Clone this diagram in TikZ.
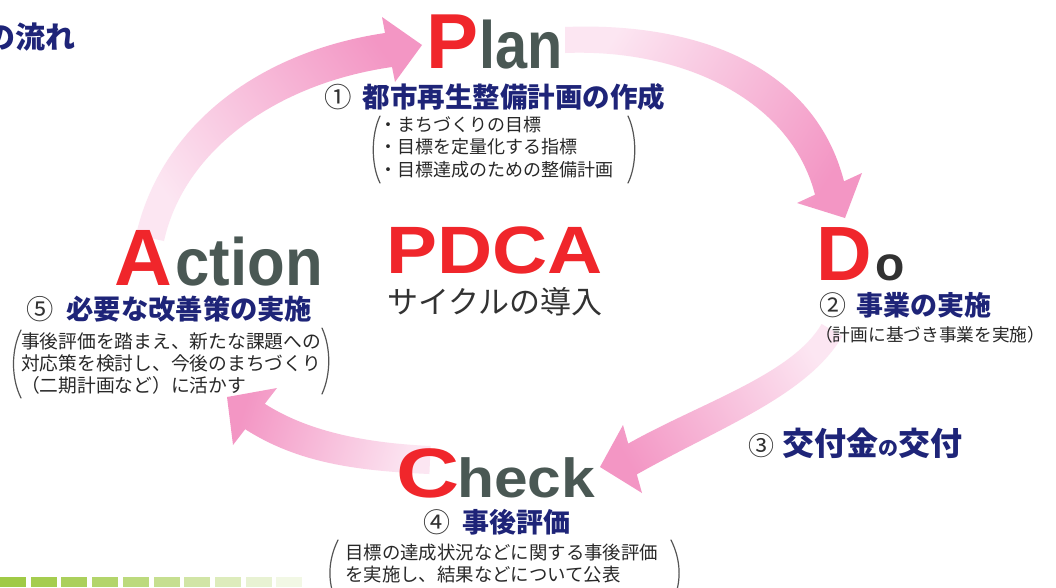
\documentclass[tikz,border=0pt]{standalone}
\usepackage{fontspec}
\setmainfont{Liberation Sans}
\newfontfamily\jp{Noto Sans CJK JP}
\newcommand{\fsz}[1]{\fontsize{#1}{#1}\selectfont}
\definecolor{redL}{RGB}{240,38,43}
\definecolor{darkL}{RGB}{74,88,84}
\definecolor{navy}{RGB}{30,36,120}
\definecolor{numc}{RGB}{50,50,50}
\definecolor{txt}{RGB}{40,40,40}
\definecolor{paren}{RGB}{85,85,85}
\definecolor{pkhead}{RGB}{243,150,196}
\definecolor{pktail}{RGB}{252,230,242}
\definecolor{barg}{RGB}{160,202,70}
\tikzset{
  capL/.style={inner sep=0, anchor=base west, text=redL, font=\bfseries},
  lowL/.style={inner sep=0, anchor=base west, text=darkL, font=\bfseries},
  head/.style={inner sep=0, anchor=west, text=navy, font=\jp\bfseries},
  body/.style={inner sep=0, anchor=west, text=txt, font=\jp},
  arrowshape/.style={top color=pktail, bottom color=pkhead},
  parenline/.style={draw=paren, line width=1.2pt, line cap=round},
}
\begin{document}
\begin{tikzpicture}[x=1pt,y=-1pt]
\useasboundingbox (0,0) rectangle (1056,587);
\fill[white] (0,0) rectangle (1056,587);

% arrows
\shade[arrowshape, shading angle=125.6]
  (136,235) .. controls (160,129.5) and (253.5,52.6) .. (385,33) -- (382,17) -- (422,45) -- (395,82) -- (392,67)
  .. controls (276.5,83.5) and (184,150) .. (164,241) -- cycle;
\shade[arrowshape, shading angle=57.6]
  (565,27) .. controls (700,21.6) and (814.8,67.9) .. (844,181.3) -- (862,173) -- (845,218) -- (797,203) -- (815,194.7)
  .. controls (790.2,98.1) and (680,48.4) .. (565,53) -- cycle;
\shade[arrowshape, shading angle=-59.4]
  (842.4,336) .. controls (807.8,395.4) and (721,426.9) .. (636.8,474.4) -- (642,493) -- (600,467) -- (623,425) -- (628.2,443.6)
  .. controls (700,403.1) and (792.2,374.6) .. (821.6,324) -- cycle;
\shade[arrowshape, shading angle=-107.2]
  (429.4,474) .. controls (359.2,470.8) and (299.2,463.8) .. (245.2,429.2) -- (233,445) -- (227,397) -- (277,388) -- (264.8,403.8)
  .. controls (310.8,433.2) and (370.8,443.2) .. (430.6,446) -- cycle;

% green bar
\foreach \i/\p in {0/100,1/95,2/88,3/80,4/70,5/60,6/48,7/36,8/24,9/14}{
  \fill[barg!\p!white] ({\i*30.7},577) rectangle ({\i*30.7+26},587);
}

% title fragment
\node[head] (title) at (-15,37) {\fsz{30}の流れ};

% Plan
\node[capL] (P) at (426,68) {\fsz{78}P};
\node[lowL, xscale=.86] (lan) at (479,68) {\fsz{67}lan};
\node[head] (h1) at (324,97) {\fsz{27.5}{\mdseries\color{numc}①}\hspace{11pt}都市再生整備計画の作成};
\node[body] (pl1) at (379,125) {\fsz{18}・まちづくりの目標};
\node[body] (pl2) at (379,147) {\fsz{18}・目標を定量化する指標};
\node[body] (pl3) at (379,170) {\fsz{18}・目標達成のための整備計画};
\draw[parenline] (380,116) .. controls (371,135) and (371,165) .. (380,183);
\draw[parenline] (628,116) .. controls (637,135) and (637,165) .. (628,183);

% Do
\node[capL] (D) at (816,280) {\fsz{77}D};
\node[lowL, text=numc] (o) at (875,280) {\fsz{48}o};
\node[head] (h2) at (819,305) {\fsz{27}{\mdseries\color{numc}②}\hspace{10pt}事業の実施};
\node[body] (do1) at (815,335) {\fsz{17.7}（計画に基づき事業を実施）};

% Grant
\node[head] (h3) at (748,443) {{\fsz{26}\mdseries\color{numc}③}\hspace{8pt}\fsz{32}交付金{\fsz{20}の}交付};

% Check
\node[capL, xscale=1.25] (C) at (396,497) {\fsz{70}C};
\node[lowL, xscale=1.1] (heck) at (457,497) {\fsz{55}heck};
\node[head] (h4) at (423,522) {\fsz{27}{\mdseries\color{numc}④}\hspace{12pt}事後評価};
\node[body] (ch1) at (345,553) {\fsz{18.4}目標の達成状況などに関する事後評価};
\node[body] (ch2) at (345,575) {\fsz{18.4}を実施し、結果などについて公表};
\draw[parenline] (338,540) .. controls (328,560) and (328,580) .. (334,596);
\draw[parenline] (671,540) .. controls (681,560) and (681,580) .. (675,596);

% Action
\node[capL] (A) at (114,285) {\fsz{80}A};
\node[lowL, xscale=.92] (ction) at (175.5,285) {\fsz{67}ction};
\node[head] (h5) at (26,309) {\fsz{27.3}{\mdseries\color{numc}⑤}\hspace{13pt}必要な改善策の実施};
\node[body] (ac1) at (21,341) {\fsz{18.75}事後評価を踏まえ、新たな課題への};
\node[body] (ac2) at (21,363) {\fsz{18.75}対応策を検討し、今後のまちづくり};
\node[body] (ac3) at (21,385) {\fsz{18.75}（二期計画など）に活かす};
\draw[parenline] (21,330) .. controls (11,350) and (11,378) .. (21,398);
\draw[parenline] (322,328) .. controls (331,348) and (331,374) .. (322,394);

% center
\node[capL, xscale=1.14] (pdca) at (386,273) {\fsz{67}PDCA};
\node[body, text=numc] (cyc) at (387,302) {\fsz{31}サイクルの導入};
\end{tikzpicture}
\end{document}
